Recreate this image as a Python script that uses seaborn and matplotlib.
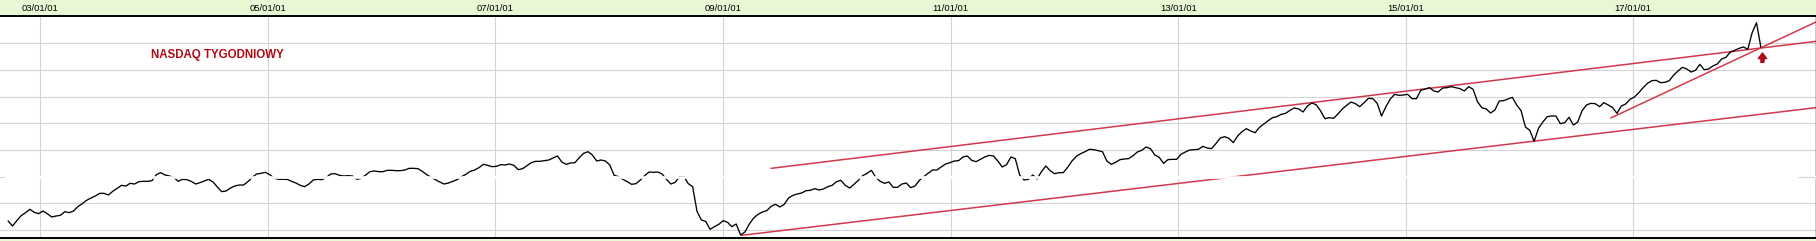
import numpy as np
import pandas as pd
import matplotlib
matplotlib.use("Agg")
import matplotlib.pyplot as plt
import seaborn as sns

# ---- data (biweekly closes; unlabeled index units) ----
start_date = "2002-09-19"
step = "14D"

values_2002_2004 = [127, 112, 128, 143, 152, 162, 153, 149, 157, 149,
                    139, 142, 144, 155, 152, 157, 170, 179, 189, 196,
                    202, 210, 210, 205, 216, 225, 234, 232, 240, 238,
                    245, 246, 246, 248, 266, 272, 265, 262, 258, 246,
                    252, 251, 246, 238, 242, 247, 252, 244, 229, 215]
values_2004_2006 = [217, 226, 232, 235, 235, 245, 258, 268, 270, 273,
                    266, 256, 252, 252, 252, 246, 241, 234, 230, 238,
                    250, 252, 251, 258, 268, 269, 264, 262, 263, 262,
                    252, 255, 265, 275, 277, 275, 275, 279, 279, 278,
                    278, 280, 285, 285, 284, 276, 266, 258, 251, 244]
values_2006_2008 = [238, 241, 246, 251, 260, 267, 276, 280, 287, 297,
                    294, 290, 291, 296, 295, 298, 294, 281, 284, 293,
                    302, 306, 306, 308, 310, 316, 322, 304, 297, 301,
                    302, 317, 330, 335, 325, 307, 310, 307, 295, 264,
                    260, 252, 245, 237, 239, 250, 263, 274, 273, 274]
values_2008_2010 = [268, 252, 238, 243, 260, 260, 239, 230, 156, 130,
                    126, 102, 110, 117, 128, 123, 110, 118, 85, 94,
                    118, 136, 147, 154, 158, 171, 177, 169, 177, 196,
                    204, 208, 211, 218, 219, 224, 220, 223, 230, 234,
                    245, 249, 234, 226, 237, 249, 263, 270, 279, 258]
values_2010_2012 = [246, 240, 244, 228, 228, 238, 241, 227, 232, 249,
                    260, 270, 280, 280, 289, 298, 302, 307, 308, 319,
                    322, 309, 305, 312, 319, 324, 322, 307, 289, 296,
                    319, 314, 265, 250, 252, 265, 253, 275, 292, 278,
                    269, 272, 272, 288, 307, 321, 329, 335, 342, 341]
values_2012_2014 = [338, 335, 307, 297, 303, 311, 313, 314, 323, 334,
                    339, 349, 344, 325, 318, 300, 311, 312, 312, 327,
                    334, 340, 341, 342, 351, 346, 344, 359, 376, 380,
                    375, 362, 382, 395, 404, 397, 392, 408, 418, 428,
                    437, 440, 447, 450, 459, 466, 463, 454, 472, 481]
values_2014_2016 = [476, 458, 434, 437, 435, 448, 463, 474, 484, 479,
                    470, 482, 495, 494, 480, 442, 470, 493, 507, 504,
                    505, 507, 494, 494, 519, 523, 527, 517, 514, 526,
                    527, 530, 527, 524, 517, 530, 522, 485, 467, 463,
                    451, 460, 487, 488, 493, 498, 475, 458, 409, 399]
values_2016_2018 = [366, 405, 424, 440, 442, 442, 419, 422, 438, 415,
                    424, 458, 475, 480, 479, 470, 482, 475, 467, 450,
                    472, 478, 492, 499, 512, 527, 540, 548, 549, 542,
                    543, 548, 565, 577, 588, 583, 574, 579, 597, 581,
                    583, 592, 598, 613, 618, 634, 639, 645, 649, 642,
                    692, 722, 648]

values = (values_2002_2004 + values_2004_2006 + values_2006_2008 +
          values_2008_2010 + values_2010_2012 + values_2012_2014 +
          values_2014_2016 + values_2016_2018)
dates = pd.date_range(start_date, periods=len(values), freq=step)
df = pd.DataFrame({"date": dates, "nasdaq": values})

tick_dates = ["2003-01-01", "2005-01-01", "2007-01-01", "2009-01-01",
              "2011-01-01", "2013-01-01", "2015-01-01", "2017-01-01"]
tick_labels = ["03/01/01", "05/01/01", "07/01/01", "09/01/01",
               "11/01/01", "13/01/01", "15/01/01", "17/01/01"]
grid_levels = [100, 180, 260, 340, 420, 500, 580, 660]
hidden_level = 260
x_range = ["2002-08-24", "2018-08-11"]
y_range = [76, 742]

upper_channel_dates = ["2009-06-04", "2018-08-11"]
upper_channel_vals = [285, 666]
lower_channel_dates = ["2009-03-01", "2018-08-11"]
lower_channel_vals = [84, 467]
short_trend_dates = ["2016-10-21", "2018-08-11"]
short_trend_vals = [436, 724]
arrow_date = "2018-02-20"
arrow_vals = [603, 631]
title_text = "NASDAQ TYGODNIOWY"

# ---- styling ----
sns.set_style("white")
plt.rcParams["font.family"] = ["Liberation Sans", "DejaVu Sans"]

strip_green = "#e8f8d4"
grid_gray = "#d4d4d4"
red_line = "#d3394c"
dark_red = "#b00814"

fig = plt.figure(figsize=(18.16, 2.41), dpi=100, facecolor=strip_green)
ax = fig.add_axes([0, 3 / 241, 1, 222 / 241])
ax.set_facecolor("white")

for lv in grid_levels:
    if lv == hidden_level:
        continue
    ax.axhline(lv, color=grid_gray, lw=0.8, zorder=1)
for d in pd.to_datetime(tick_dates):
    ax.axvline(d, color=grid_gray, lw=0.8, zorder=1)

sns.lineplot(data=df, x="date", y="nasdaq", ax=ax, color="black",
             lw=0.95, zorder=3, estimator=None)

ax.plot(pd.to_datetime(upper_channel_dates), upper_channel_vals,
        color=red_line, lw=1.1, zorder=2)
ax.plot(pd.to_datetime(lower_channel_dates), lower_channel_vals,
        color=red_line, lw=1.1, zorder=2)
ax.plot(pd.to_datetime(short_trend_dates), short_trend_vals,
        color=red_line, lw=1.1, zorder=2)

# the white gridline that overprints the series
ax.axhline(hidden_level, color="white", lw=1.9, zorder=6)
ax.axhline(hidden_level, xmin=0, xmax=4 / 1816, color=grid_gray, lw=0.8, zorder=7)
ax.axhline(hidden_level, xmin=1 - 18 / 1816, xmax=1, color=grid_gray, lw=0.8, zorder=7)

ad = pd.Timestamp(arrow_date)
ax.annotate("", xy=(ad, arrow_vals[1]), xytext=(ad, arrow_vals[0]),
            arrowprops=dict(arrowstyle="simple,head_width=0.6,head_length=0.4,tail_width=0.22",
                            color=dark_red, shrinkA=0, shrinkB=0),
            zorder=8)

ax.text(151 / 1816, 0.826, title_text, transform=ax.transAxes,
        color=dark_red, fontsize=8.3, fontweight="bold",
        ha="left", va="center", zorder=8)

ax.set_xlim(pd.to_datetime(x_range))
ax.set_ylim(y_range)
ax.xaxis.tick_top()
ax.set_xticks(pd.to_datetime(tick_dates))
ax.set_xticklabels(tick_labels, fontsize=6.8)
ax.tick_params(axis="x", length=0, pad=2.5, colors="black")
ax.set_yticks([])
ax.set_xlabel("")
ax.set_ylabel("")

for side in ["top", "bottom"]:
    ax.spines[side].set_visible(True)
    ax.spines[side].set_color("black")
    ax.spines[side].set_linewidth(1.4)
ax.spines["right"].set_visible(True)
ax.spines["right"].set_color("black")
ax.spines["right"].set_linewidth(1.0)
ax.spines["left"].set_visible(False)

fig.savefig("out.png", dpi=100, facecolor=strip_green)
